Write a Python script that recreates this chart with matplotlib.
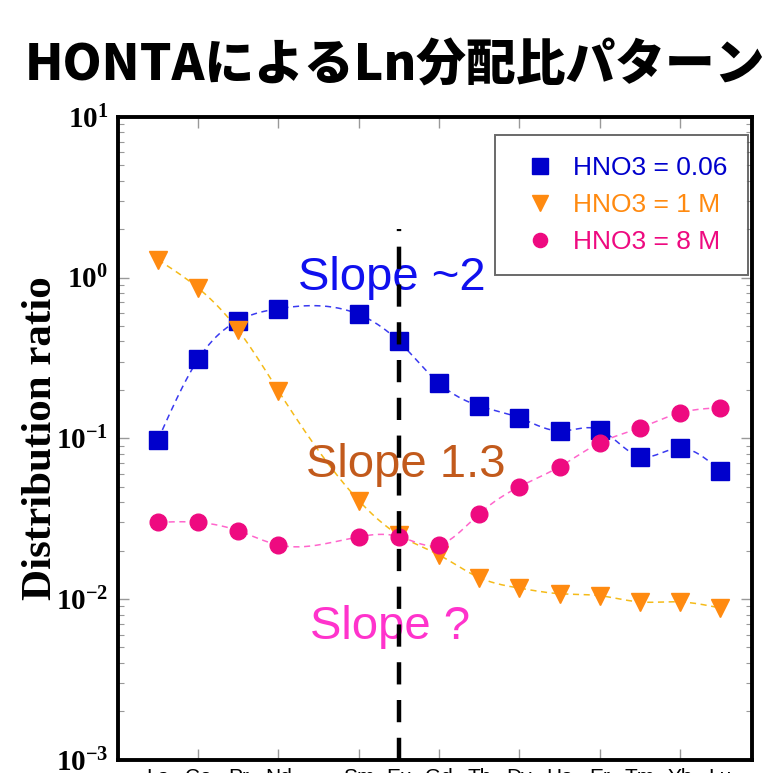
import numpy as np
import matplotlib
matplotlib.use("Agg")
import matplotlib.pyplot as plt
from matplotlib.ticker import LogLocator, NullFormatter, FixedLocator

# Lanthanide series (atomic number, symbol); Pm has no data
ELEMENTS = ["La", "Ce", "Pr", "Nd", "Pm", "Sm", "Eu", "Gd", "Tb", "Dy", "Ho", "Er", "Tm", "Yb", "Lu"]
Z_ALL = list(range(57, 72))
Z_DATA = [57, 58, 59, 60, 62, 63, 64, 65, 66, 67, 68, 69, 70, 71]

D_HNO3_006 = [0.098, 0.31, 0.54, 0.64, 0.59, 0.40, 0.22, 0.159, 0.134, 0.111, 0.113, 0.077, 0.087, 0.063]
D_HNO3_1M = [1.29, 0.86, 0.47, 0.197, 0.041, 0.025, 0.0188, 0.0136, 0.0117, 0.0108, 0.0105, 0.0096, 0.0096, 0.0088]
D_HNO3_8M = [0.030, 0.030, 0.0266, 0.0217, 0.0244, 0.0245, 0.0217, 0.0339, 0.050, 0.0665, 0.0937, 0.116, 0.144, 0.155]

SERIES = [
    ("HNO3 = 0.06", D_HNO3_006, "s", 13, "#0000cc", "#3a3af0"),
    ("HNO3 = 1 M", D_HNO3_1M, "v", 13, "#ff8a10", "#f5bb1a"),
    ("HNO3 = 8 M", D_HNO3_8M, "o", 12, "#ee0a80", "#ff66cc"),
]


def natural_spline(x, y, xs):
    """Natural cubic spline through (x, y), evaluated at xs."""
    x = np.asarray(x, float)
    y = np.asarray(y, float)
    n = len(x)
    h = np.diff(x)
    A = np.zeros((n, n))
    b = np.zeros(n)
    A[0, 0] = A[-1, -1] = 1.0
    for i in range(1, n - 1):
        A[i, i - 1] = h[i - 1]
        A[i, i] = 2 * (h[i - 1] + h[i])
        A[i, i + 1] = h[i]
        b[i] = 3 * ((y[i + 1] - y[i]) / h[i] - (y[i] - y[i - 1]) / h[i - 1])
    c = np.linalg.solve(A, b)
    idx = np.clip(np.searchsorted(x, xs) - 1, 0, n - 2)
    dx = xs - x[idx]
    bb = (y[idx + 1] - y[idx]) / h[idx] - h[idx] * (2 * c[idx] + c[idx + 1]) / 3
    dd = (c[idx + 1] - c[idx]) / (3 * h[idx])
    return y[idx] + bb * dx + c[idx] * dx ** 2 + dd * dx ** 3


plt.rcParams["font.family"] = ["Liberation Sans", "DejaVu Sans"]
plt.rcParams["mathtext.fontset"] = "custom"
plt.rcParams["mathtext.rm"] = "Liberation Serif:bold"
plt.rcParams["mathtext.it"] = "Liberation Serif:bold"
plt.rcParams["mathtext.bf"] = "Liberation Serif:bold"

fig = plt.figure(figsize=(7.7, 7.73), dpi=100)
ax = fig.add_axes([0.153, 0.017, 0.824, 0.832])

xs = np.linspace(Z_DATA[0], Z_DATA[-1], 300)
for label, vals, marker, ms, mcolor, lcolor in SERIES:
    curve = 10 ** natural_spline(Z_DATA, np.log10(vals), xs)
    ax.plot(xs, curve, ls=(0, (4, 3)), lw=1.1, color=lcolor, zorder=2)
    ax.plot(Z_DATA, vals, ls="none", marker=marker, ms=ms, color=mcolor,
            mec=mcolor, label=label, zorder=3)

ax.set_yscale("log")
ax.set_ylim(1e-3, 1e1)
ax.set_xlim(56, 71.8)

# Dashed divider at Eu
ax.vlines(63, 1e-3, 2.0, colors="black", linestyles=(0, (5, 3.5)), lw=3.2, zorder=4)

ax.text(0.284, 0.75, "Slope ~2", transform=ax.transAxes, fontsize=34,
        color="#1010ee", va="center")
ax.text(0.297, 0.459, "Slope 1.3", transform=ax.transAxes, fontsize=34,
        color="#c25a1c", va="center")
ax.text(0.303, 0.207, "Slope ?", transform=ax.transAxes, fontsize=34,
        color="#ff33cc", va="center")

# Axis styling
for s in ax.spines.values():
    s.set_linewidth(2.8)
ax.yaxis.set_minor_locator(LogLocator(base=10, subs=np.arange(2, 10), numticks=10))
ax.yaxis.set_minor_formatter(NullFormatter())
ax.set_yticks([1e-3, 1e-2, 1e-1, 1e0, 1e1])
ax.set_yticklabels([r"$10^{-3}$", r"$10^{-2}$", r"$10^{-1}$", r"$10^{0}$", r"$10^{1}$"],
                   fontsize=21)
ax.xaxis.set_major_locator(FixedLocator(list(range(58, 72, 2))))
ax.tick_params(axis="both", which="both", direction="in", top=True, right=True,
               color="#999999")
ax.tick_params(axis="y", which="major", length=8, width=1, pad=7)
ax.tick_params(axis="y", which="minor", length=4, width=0.8)
ax.tick_params(axis="x", which="major", length=8, width=1, labelbottom=False)
ax.set_ylabel("Distribution ratio", family="Liberation Serif", weight="bold",
              fontsize=31)
ax.yaxis.set_label_coords(-0.091, 0.5)

for z, sym in zip(Z_ALL, ELEMENTS):
    if sym == "Pm":
        continue
    ax.text(z, -0.012, sym, transform=ax.get_xaxis_transform(), ha="center",
            va="top", fontsize=15, color="black")

leg = ax.legend(loc="upper right", bbox_to_anchor=(0.994, 0.972), borderaxespad=0,
                fontsize=19, frameon=True, fancybox=False, edgecolor="#444444",
                borderpad=0.8, labelspacing=0.5, handletextpad=0.35,
                handlelength=1.8, markerscale=0.85)
leg.get_frame().set_linewidth(1.4)
for txt, s in zip(leg.get_texts(), SERIES):
    txt.set_color(s[4])

fig.text(0.513, 0.915, "HONTAによるLn分配比パターン", ha="center", va="center",
         fontsize=35.8, weight="black", family=["Noto Sans CJK JP", "DejaVu Sans"])

fig.savefig("out.png", dpi=100)
